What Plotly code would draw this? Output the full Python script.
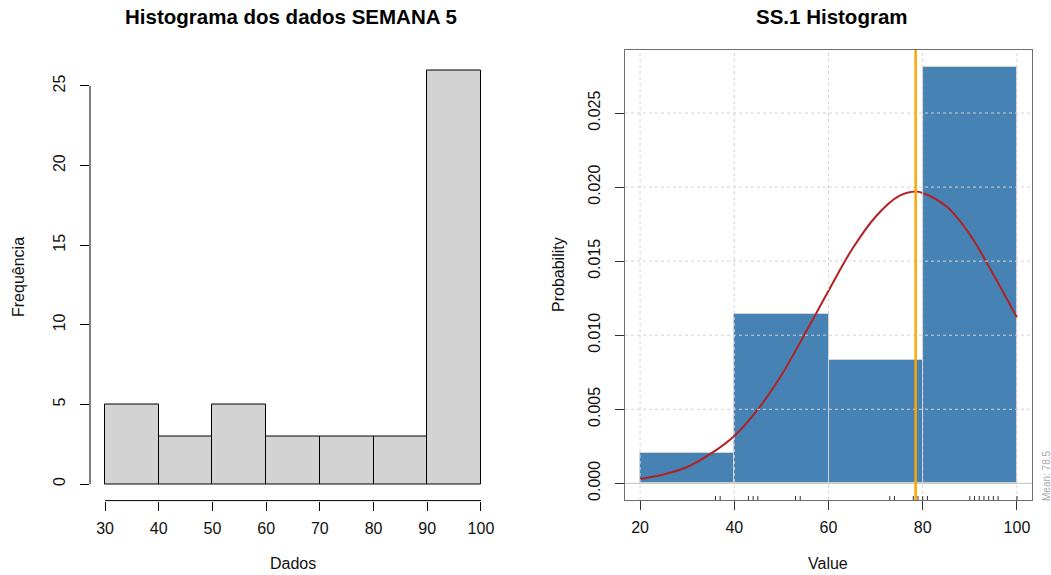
import plotly.graph_objects as go

W, H = 1051, 575

# ---------------- data ----------------
left_bin_edges = [30, 40, 50, 60, 70, 80, 90, 100]
left_counts = [5, 3, 5, 3, 3, 3, 26]
left_xticks = [30, 40, 50, 60, 70, 80, 90, 100]
left_yticks = [0, 5, 10, 15, 20, 25]

right_bin_edges = [20, 40, 60, 80, 100]
right_density = [0.00208, 0.01146, 0.00833, 0.02813]
right_xticks = [20, 40, 60, 80, 100]
right_yticks = [0.000, 0.005, 0.010, 0.015, 0.020, 0.025]
right_ytick_text = ["0.000", "0.005", "0.010", "0.015", "0.020", "0.025"]

curve_x = [20, 25, 30, 35, 40, 45, 50, 55, 60, 65, 70, 75, 78.5, 80, 85, 90, 95, 100]
curve_y = [0.0003, 0.0006, 0.0011, 0.0020, 0.0032, 0.0050, 0.0073, 0.0101, 0.0130,
           0.0158, 0.0180, 0.0194, 0.0197, 0.0196, 0.0187, 0.0168, 0.0141, 0.0112]

rug_values = [36, 37, 43, 44, 45, 53, 54, 73, 74, 78, 79, 80, 81,
              90, 91, 92, 93, 94, 95, 96, 100]
mean_value = 78.5

# ---------------- helpers ----------------
def px_x(p):
    return p / W

def px_y(p):
    return 1 - p / H

FONT = "Liberation Sans, Arial, sans-serif"
TXT = "#111111"

left_centers = [(a + b) / 2 for a, b in zip(left_bin_edges[:-1], left_bin_edges[1:])]
left_widths = [b - a for a, b in zip(left_bin_edges[:-1], left_bin_edges[1:])]
right_centers = [(a + b) / 2 for a, b in zip(right_bin_edges[:-1], right_bin_edges[1:])]
right_widths = [b - a for a, b in zip(right_bin_edges[:-1], right_bin_edges[1:])]

fig = go.Figure()

fig.add_trace(go.Bar(
    x=left_centers, y=left_counts, width=left_widths,
    marker=dict(color="#D3D3D3", line=dict(color="#000000", width=1)),
    xaxis="x", yaxis="y", showlegend=False, hoverinfo="skip"))

fig.add_trace(go.Bar(
    x=right_centers, y=right_density, width=right_widths,
    marker=dict(color="#4682B4", line=dict(color="#D3D3D3", width=1)),
    xaxis="x2", yaxis="y2", showlegend=False, hoverinfo="skip"))

fig.add_trace(go.Scatter(
    x=curve_x, y=curve_y, mode="lines", line=dict(color="#B22222", width=2, shape="spline"),
    xaxis="x2", yaxis="y2", showlegend=False, hoverinfo="skip"))

# ranges (R style 4% expansion)
lx0, lx1 = left_bin_edges[0], left_bin_edges[-1]
ly1 = max(left_counts)
lxr = [lx0 - 0.04 * (lx1 - lx0), lx1 + 0.04 * (lx1 - lx0)]
lyr = [-0.04 * ly1, ly1 * 1.04]
rx0, rx1 = right_bin_edges[0], right_bin_edges[-1]
ry1 = max(right_density)
rxr = [rx0 - 0.04 * (rx1 - rx0), rx1 + 0.04 * (rx1 - rx0)]
ryr = [-0.04 * ry1, ry1 * 1.04]

tickfont = dict(family=FONT, size=16, color=TXT)

fig.update_layout(
    width=W, height=H,
    margin=dict(l=0, r=0, t=0, b=0),
    paper_bgcolor="white", plot_bgcolor="white",
    bargap=0,
    xaxis=dict(domain=[px_x(90), px_x(496)], range=lxr, tickvals=left_xticks,
               ticks="outside", ticklen=9, tickcolor="#000", tickwidth=1,
               showgrid=False, zeroline=False, showline=False, tickfont=tickfont,
               ticklabelstandoff=4, anchor="y"),
    yaxis=dict(domain=[px_y(500.6), px_y(53.5)], range=lyr, tickvals=left_yticks,
               ticks="outside", ticklen=9, tickcolor="#000", tickwidth=1, tickangle=-90,
               showgrid=False, zeroline=False, showline=False, tickfont=tickfont,
               ticklabelstandoff=9, anchor="x"),
    xaxis2=dict(domain=[px_x(625), px_x(1032)], range=rxr, tickvals=right_xticks,
                ticks="outside", ticklen=9, tickcolor="#333", tickwidth=1,
                showgrid=False, zeroline=False, showline=True, mirror=True,
                linecolor="#6e6e6e", linewidth=1, tickfont=tickfont,
                ticklabelstandoff=4, anchor="y2"),
    yaxis2=dict(domain=[px_y(500), px_y(50)], range=ryr, tickvals=right_yticks,
                ticktext=right_ytick_text,
                ticks="outside", ticklen=9, tickcolor="#333", tickwidth=1, tickangle=-90,
                showgrid=False, zeroline=False, showline=True, mirror=True,
                linecolor="#6e6e6e", linewidth=1, tickfont=tickfont,
                ticklabelstandoff=9, anchor="x2"),
)

shapes = []
# left axis lines (R style, spanning tick range only)
shapes.append(dict(type="line", xref="x", yref="y domain", x0=left_xticks[0], x1=left_xticks[-1],
                   y0=0, y1=0, line=dict(color="#000", width=1)))
shapes.append(dict(type="line", xref="x domain", yref="y", x0=0, x1=0,
                   y0=left_yticks[0], y1=left_yticks[-1], line=dict(color="#000", width=1)))
# right grid
for v in right_xticks:
    shapes.append(dict(type="line", xref="x2", yref="y2 domain", x0=v, x1=v, y0=0, y1=1,
                       line=dict(color="#D3D3D3", width=1, dash="dot"), layer="above"))
for v in right_yticks[1:]:
    shapes.append(dict(type="line", xref="x2 domain", yref="y2", x0=0, x1=1, y0=v, y1=v,
                       line=dict(color="#D3D3D3", width=1, dash="dot"), layer="above"))
shapes.append(dict(type="line", xref="x2 domain", yref="y2", x0=0, x1=1, y0=0, y1=0,
                   line=dict(color="#BEBEBE", width=1), layer="above"))
# rug
for v in rug_values:
    shapes.append(dict(type="line", xref="x2", yref="y2 domain", x0=v, x1=v, y0=0, y1=4 / 450,
                       line=dict(color="#333", width=1), layer="above"))
# mean line
shapes.append(dict(type="line", xref="x2", yref="y2 domain", x0=mean_value, x1=mean_value,
                   y0=0, y1=1, line=dict(color="#FFA500", width=2.5), layer="above"))
fig.update_layout(shapes=shapes)

ann = []
def add_text(text, x, y, size=16, bold=False, angle=0, color=TXT):
    ann.append(dict(text=("<b>%s</b>" % text) if bold else text,
                    x=px_x(x), y=px_y(y), xref="paper", yref="paper",
                    xanchor="center", yanchor="middle", showarrow=False, textangle=angle,
                    font=dict(family=FONT, size=size, color=color)))

add_text("Histograma dos dados SEMANA 5", 291, 16, size=20.5, bold=True, color="#000")
add_text("SS.1 Histogram", 832, 16, size=20.5, bold=True, color="#000")
add_text("Dados", 293, 563)
add_text("Value", 828, 563)
add_text("Frequência", 18, 277, angle=-90)
add_text("Probability", 558, 275, angle=-90)
add_text("Mean: %.1f" % mean_value, 1046, 476, size=10, angle=-90, color="#A9A9A9")
fig.update_layout(annotations=ann)

fig.write_html("out.html")
